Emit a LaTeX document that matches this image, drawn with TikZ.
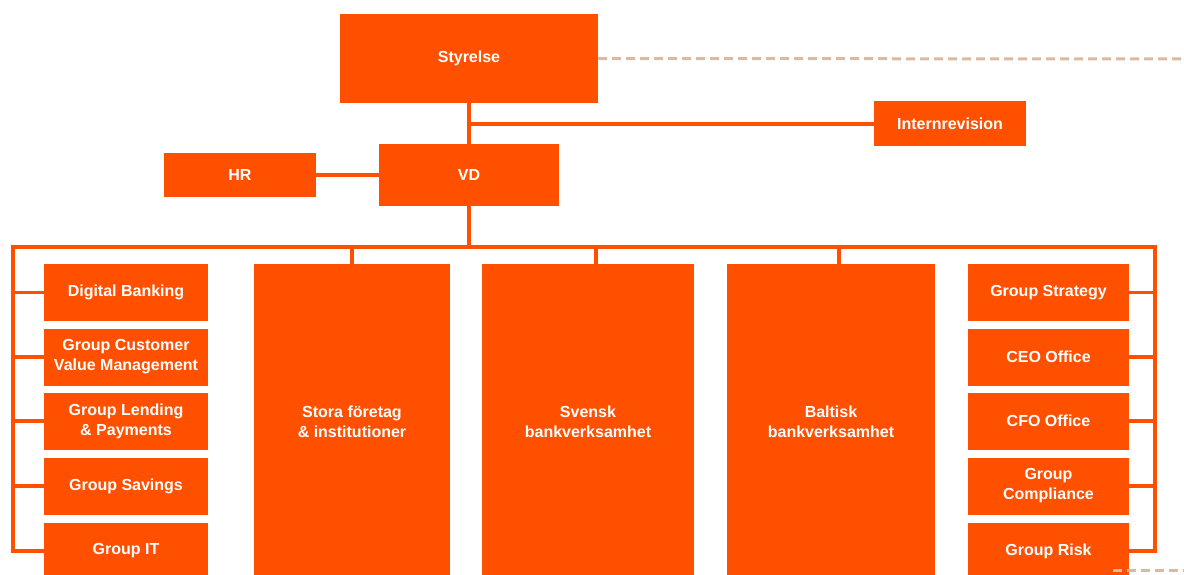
\documentclass[tikz,border=0pt]{standalone}
\usepackage{fontspec}
\setmainfont{Liberation Sans}
\usetikzlibrary{positioning}
\definecolor{swedorange}{RGB}{255,80,0}
\definecolor{dashtan}{RGB}{218,186,160}
\tikzset{
  unit/.style={fill=swedorange,text=white,font=\bfseries\fontsize{16}{20}\selectfont,align=center,inner sep=0pt},
  link/.style={draw=swedorange,line width=3.5pt},
  dotline/.style={draw=dashtan,line width=3pt,dash pattern=on 9pt off 5pt}
}
\begin{document}
\begin{tikzpicture}[x=1pt,y=-1pt]
        \useasboundingbox (0,0) rectangle (1184,575);
        \node[unit,minimum width=258,minimum height=89] (styrelse) at (469,58.5) {Styrelse};
        \node[unit,minimum width=152,minimum height=45] (intern) at (950,124) {Internrevision};
        \node[unit,minimum width=180,minimum height=61] (vd) at (469,175) {VD};
        \node[unit,minimum width=152,minimum height=44] (hr) at (240,175) {HR};
        \coordinate (busL) at (13,247);
        \coordinate (busR) at (1155,247);
        \coordinate (dashtop) at (1184,59);
        \coordinate (dashlow) at (1184,570);
        \coordinate (dashstart) at (1113,570);
        % staff units left and right
        \foreach \name/\y/\txt in {digital/292.5/Digital Banking,
            custval/357/Group Customer\\Value Management,
            lending/421/Group Lending\\\& Payments,
            savings/486/Group Savings,
            grpit/551/Group IT} {
          \node[unit,minimum width=164,minimum height=57] (\name) at (126,\y) {\txt};
        }
        \foreach \name/\y/\txt in {strategy/292.5/Group Strategy,
            ceo/357/CEO Office,
            cfo/421/CFO Office,
            compliance/486/Group\\Compliance,
            risk/551/Group Risk} {
          \node[unit,minimum width=161,minimum height=57] (\name) at (1048.5,\y) {\txt};
        }
        % business areas
        \node[unit,minimum width=196,minimum height=316] (stora) at (352,422) {Stora företag\\\& institutioner};
        \node[unit,minimum width=212,minimum height=316] (svensk) at (588,422) {Svensk\\bankverksamhet};
        \node[unit,minimum width=208,minimum height=316] (baltisk) at (831,422) {Baltisk\\bankverksamhet};
        % connectors
        \draw[dotline] (styrelse.east) -- (dashtop);
        \draw[dotline] (dashstart) -- (dashlow);
        \draw[link] (styrelse.south) -- (vd.north);
        \draw[link] (styrelse.south |- intern.west) -- (intern.west);
        \draw[link] (hr.east) -- (vd.west);
        \draw[link] (vd.south) -- (vd.south |- busL);
        \draw[link] (grpit.west) -| (busL) -- (busR) |- (risk.east);
        \foreach \name in {digital,custval,lending,savings} {
          \draw[link] (\name.west) -- (\name.west -| busL);
        }
        \foreach \name in {strategy,ceo,cfo,compliance} {
          \draw[link] (\name.east) -- (\name.east -| busR);
        }
        \draw[link] (stora.north) -- (stora.north |- busL);
        \draw[link] ([xshift=8pt]svensk.north) -- ([xshift=8pt]svensk.north |- busL);
        \draw[link] ([xshift=8pt]baltisk.north) -- ([xshift=8pt]baltisk.north |- busL);
      \end{tikzpicture}
\end{document}
